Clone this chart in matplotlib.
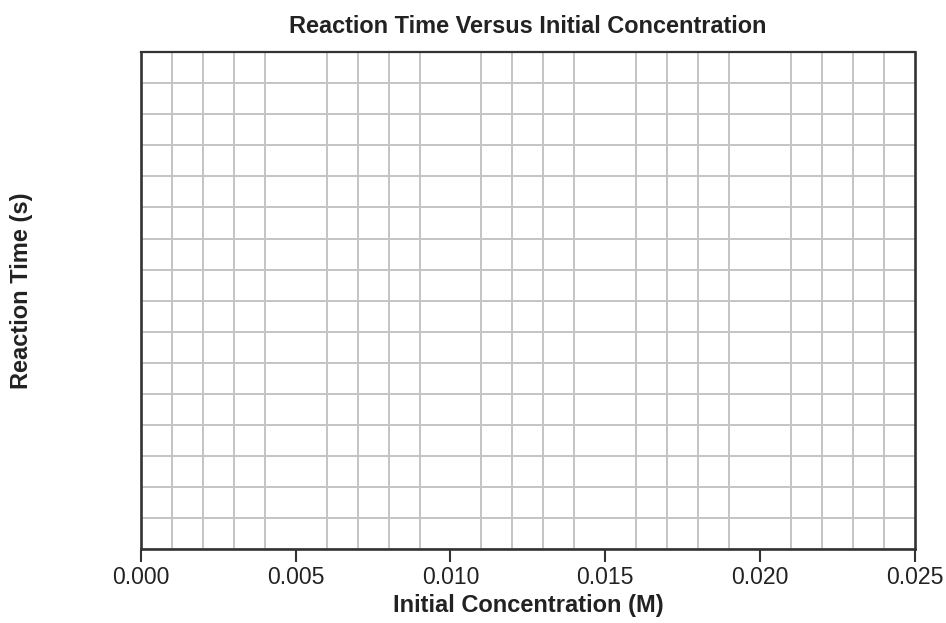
import numpy as np
import matplotlib.pyplot as plt

# axis ranges / ticks
x_ticks = [0.000, 0.005, 0.010, 0.015, 0.020, 0.025]
x_tick_labels = ['0.000', '0.005', '0.010', '0.015', '0.020', '0.025']
x_grid_step = 0.001
n_rows = 16

title = 'Reaction Time Versus Initial Concentration'
x_label = 'Initial Concentration (M)'
y_label = 'Reaction Time (s)'

plt.rcParams['font.family'] = ['Liberation Sans', 'DejaVu Sans']

fig = plt.figure(figsize=(9.46, 6.23), dpi=100)
ax = fig.add_axes([0.149, 0.119, 0.818, 0.797])

ax.set_xlim(x_ticks[0], x_ticks[-1])
ax.set_ylim(0, n_rows)

# grid lines
x_minor = np.arange(0, round(x_ticks[-1] / x_grid_step) + 1) * x_grid_step
ax.set_xticks(x_minor, minor=True)
ax.set_yticks(range(n_rows + 1), minor=True)
ax.set_yticks([])
ax.grid(which='minor', color='#c4c4c4', linewidth=1.4)
ax.set_axisbelow(True)

ax.set_xticks(x_ticks)
ax.set_xticklabels(x_tick_labels, fontsize=16.6, color='#222222')
ax.tick_params(axis='x', which='major', length=9, width=1.5, color='#333333', pad=3)
ax.tick_params(axis='both', which='minor', length=0)

for side in ['left', 'bottom', 'top', 'right']:
    ax.spines[side].set_color('#333333')
    ax.spines[side].set_linewidth(1.9)
ax.spines['top'].set_linewidth(1.6)

ax.set_title(title, fontsize=16.9, fontweight='bold', color='#222222', pad=14)
ax.set_xlabel(x_label, fontsize=17, fontweight='bold', color='#222222', labelpad=4)
ax.set_ylabel(y_label, fontsize=17, fontweight='bold', color='#222222')
ax.yaxis.set_label_coords(-0.139, 0.52)

fig.savefig('out.png', dpi=100)
